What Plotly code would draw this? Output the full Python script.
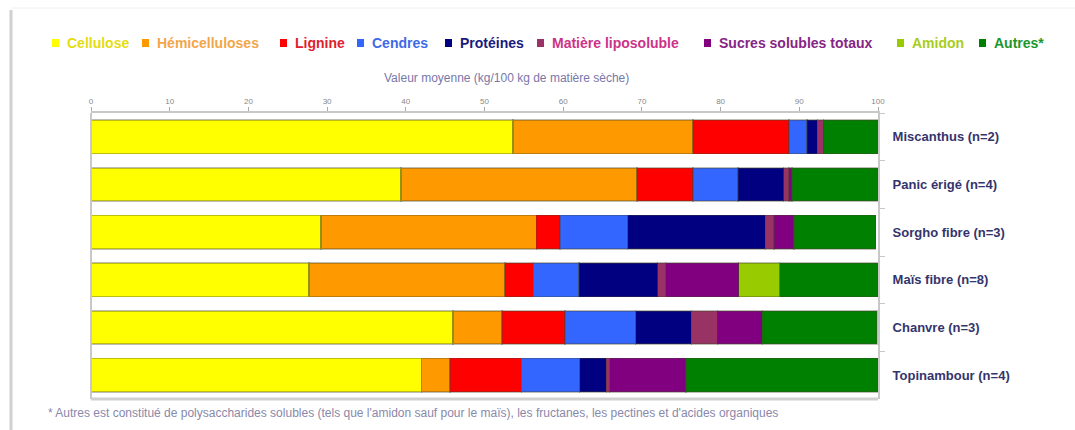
import plotly.graph_objects as go

# Biomass composition, mean values in kg per 100 kg of dry matter
crops = ["Miscanthus (n=2)", "Panic érigé (n=4)", "Sorgho fibre (n=3)",
         "Maïs fibre (n=8)", "Chanvre (n=3)", "Topinambour (n=4)"]

cellulose      = [53.6, 39.4, 29.2, 27.7, 46.0, 42.0]
hemicelluloses = [22.9, 30.0, 27.4, 24.9, 6.2, 3.6]
lignine        = [12.2, 7.1, 3.0, 3.6, 8.0, 9.1]
cendres        = [2.3, 5.7, 8.6, 5.8, 9.0, 7.4]
proteines      = [1.3, 5.8, 17.5, 10.0, 7.1, 3.4]
liposoluble    = [0.8, 0.7, 1.1, 1.0, 3.3, 0.4]
sucres         = [0.0, 0.4, 2.5, 9.3, 5.7, 9.7]
amidon         = [0.0, 0.0, 0.0, 5.2, 0.0, 0.0]
autres         = [7.0, 10.9, 10.4, 12.5, 14.6, 24.4]

component_names = ["Cellulose", "Hémicelluloses", "Lignine", "Cendres", "Protéines",
                   "Matière liposoluble", "Sucres solubles totaux", "Amidon", "Autres*"]
component_values = [cellulose, hemicelluloses, lignine, cendres, proteines,
                    liposoluble, sucres, amidon, autres]
bar_colors = ["#FFFF00", "#FF9900", "#FF0000", "#3366FF", "#000080",
              "#993366", "#800080", "#99CC00", "#008000"]
label_colors = ["#E4DC10", "#F2A64A", "#E0202C", "#3F6AE6", "#1A1A80",
                "#CC3388", "#852585", "#A8CC20", "#20962A"]

# left edge of each legend label (pixels), the key square sits just before it
legend_text_px = [65, 155, 293, 370, 458, 550, 717, 910, 992]

FONT = "Liberation Sans, Arial, sans-serif"

plot_top, plot_bot, plot_l, plot_r = 113, 399, 91, 878
ph = plot_bot - plot_top
pw = plot_r - plot_l


def py(p):
    """pixel row -> paper y"""
    return (plot_bot - p) / ph


def px(p):
    """pixel column -> paper x"""
    return (p - plot_l) / pw


fig = go.Figure()
for name, vals, col in zip(component_names, component_values, bar_colors):
    fig.add_trace(go.Bar(
        y=crops, x=vals, orientation="h", name=name, showlegend=False,
        marker=dict(color=col, line=dict(color="rgba(70,70,40,0.35)", width=1.5)),
    ))

shapes = [
    # left edge of plotting area
    dict(type="line", xref="paper", yref="paper", x0=0, x1=0, y0=0, y1=1,
         line=dict(color="#C8C8C8", width=2)),
    # bottom edge of plotting area
    dict(type="line", xref="paper", yref="paper", x0=0, x1=1, y0=0, y1=0,
         line=dict(color="#D0D0D0", width=3)),
    # outer frame
    dict(type="line", xref="paper", yref="paper", x0=px(11), x1=px(11),
         y0=py(10), y1=py(432), line=dict(color="#D0D0D0", width=3)),
    dict(type="line", xref="paper", yref="paper", x0=px(11), x1=px(1075),
         y0=py(8), y1=py(8), line=dict(color="#F0F0F0", width=1)),
]

annotations = [
    dict(xref="paper", yref="paper", x=px(506), y=py(78),
         xanchor="center", yanchor="middle", showarrow=False,
         text="Valeur moyenne (kg/100 kg de matière sèche)",
         font=dict(size=12, color="#7777AA", family=FONT)),
    dict(xref="paper", yref="paper", x=px(46), y=py(413),
         xanchor="left", yanchor="middle", showarrow=False,
         text="* Autres est constitué de polysaccharides solubles (tels que l'amidon sauf pour le maïs), "
              "les fructanes, les pectines et d'acides organiques",
         font=dict(size=12, color="#8888AA", family=FONT)),
]

# legend row: small coloured key square followed by the coloured label
legend_y = 43
for name, col, tcol, tx in zip(component_names, bar_colors, label_colors, legend_text_px):
    shapes.append(dict(type="rect", xref="paper", yref="paper",
                       x0=px(tx - 13), x1=px(tx - 6), y0=py(legend_y + 4), y1=py(legend_y - 4),
                       fillcolor=col, line=dict(width=0)))
    annotations.append(dict(xref="paper", yref="paper", x=px(tx), y=py(legend_y),
                            xanchor="left", yanchor="middle", showarrow=False,
                            text=f"<b>{name}</b>",
                            font=dict(size=14, color=tcol, family=FONT)))

fig.update_layout(
    barmode="stack",
    bargap=0.3,
    width=1075, height=430,
    margin=dict(l=plot_l, r=1075 - plot_r, t=plot_top, b=430 - plot_bot),
    paper_bgcolor="white", plot_bgcolor="white",
    font=dict(family=FONT, color="#333366"),
    showlegend=False,
    xaxis=dict(
        side="top", range=[0, 100], dtick=10,
        showgrid=False, zeroline=False,
        showline=True, linecolor="#C8C8C8", linewidth=2,
        ticks="outside", ticklen=4, tickcolor="#AAAAAA",
        tickfont=dict(size=8, color="#888888", family=FONT),
    ),
    yaxis=dict(
        side="right", autorange="reversed",
        showgrid=False, zeroline=False,
        showline=True, linecolor="#C8C8C8", linewidth=2,
        ticks="outside", ticklen=5, tickcolor="#C8C8C8", tickson="boundaries",
        tickfont=dict(size=13, color="#34346C", family=FONT, weight="bold"),
        ticklabelstandoff=10,
    ),
    shapes=shapes,
    annotations=annotations,
)

fig.write_html("out.html")
